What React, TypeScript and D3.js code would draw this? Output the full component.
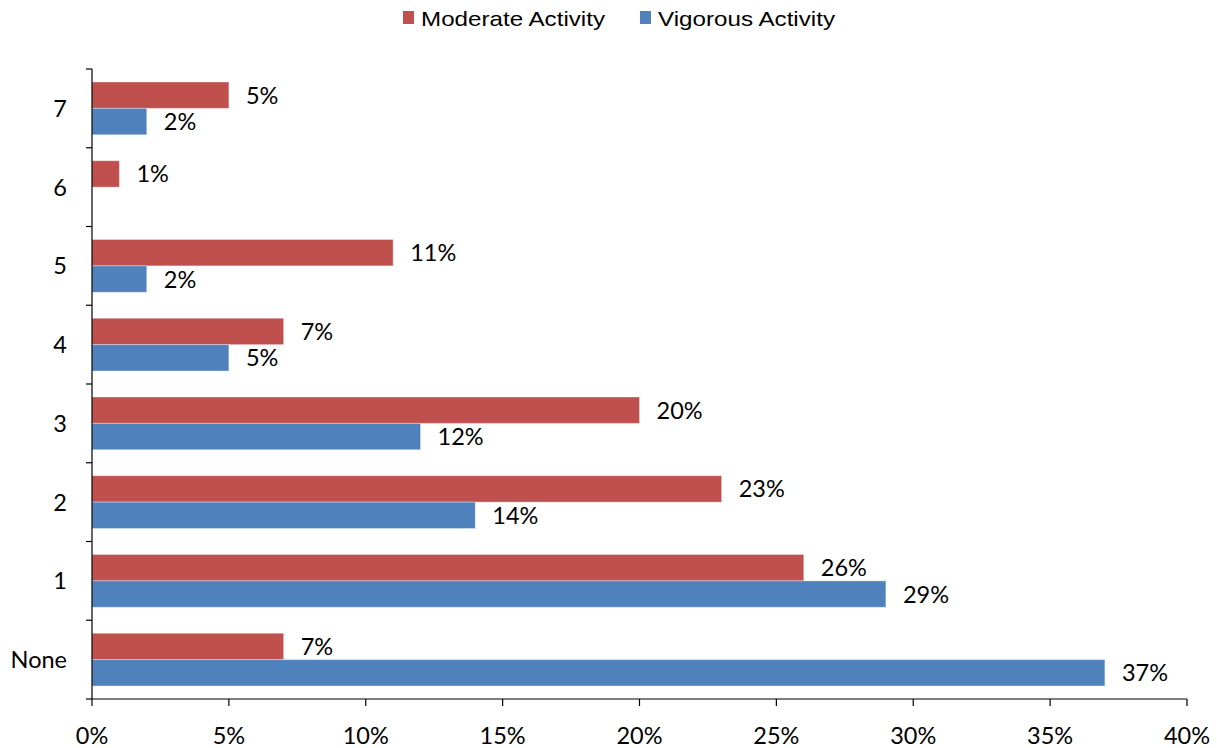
import React from "react";
import * as d3 from "d3";

const categories = ["7", "6", "5", "4", "3", "2", "1", "None"];
const moderate = [5, 1, 11, 7, 20, 23, 26, 7];
const vigorous = [2, 0, 2, 5, 12, 14, 29, 37];
const seriesNames = ["Moderate Activity", "Vigorous Activity"];
const seriesColors = ["#C0504D", "#4F81BD"];
const xTicks = [0, 5, 10, 15, 20, 25, 30, 35, 40];

const W = 1217;
const H = 748;
const FONT = "Lato, 'Liberation Sans', sans-serif";

export default function App() {
  const left = 92, right = 1187, top = 69, bottom = 699;
  const x = d3.scaleLinear().domain([0, 40]).range([left, right]);
  const y = d3.scaleBand<string>().domain(categories).range([top, bottom]).paddingInner(0.33).paddingOuter(0.165);
  const sub = d3.scaleBand<string>().domain(seriesNames).range([0, y.bandwidth()]);
  const series = [moderate, vigorous];
  const step = (bottom - top) / categories.length;

  return (
    <svg width={W} height={H} style={{ position: "absolute", left: 0, top: 0, background: "#fff" }} fontFamily={FONT}>
      {/* legend */}
      {seriesNames.map((n, i) => {
        const lx = i === 0 ? 403 : 640;
        return (
          <g key={n}>
            <rect x={lx} y={11} width={11} height={13} fill={seriesColors[i]} />
            <text x={lx + 18} y={26} fontSize={21} fontFamily="'Liberation Sans', Arial, sans-serif" fill="#000" textLength={i === 0 ? 184 : 177} lengthAdjust="spacingAndGlyphs">{n}</text>
          </g>
        );
      })}
      {/* bars */}
      {categories.map((c, ci) => (
        <g key={c}>
          {series.map((vals, si) => {
            const v = vals[ci];
            if (v === 0) return null;
            const by = (y(c) as number) + (sub(seriesNames[si]) as number);
            const bh = sub.bandwidth();
            return (
              <g key={si}>
                <rect x={x(0)} y={by} width={x(v) - x(0)} height={bh} fill={seriesColors[si]} stroke="rgba(255,255,255,0.35)" strokeWidth={1} />
                <text x={x(v) + 17} y={by + bh / 2} dy="0.36em" fontSize={23.5} fill="#000">{v}%</text>
              </g>
            );
          })}
          <text x={67} y={(y(c) as number) + y.bandwidth() / 2} dy="0.36em" textAnchor="end" fontSize={23.5} fill="#000">{c}</text>
        </g>
      ))}
      {/* y axis */}
      <line x1={left} x2={left} y1={top} y2={bottom} stroke="#000" strokeWidth={1.2} />
      {d3.range(categories.length + 1).map(i => (
        <line key={i} x1={left - 6} x2={left} y1={top + i * step} y2={top + i * step} stroke="#000" strokeWidth={1.2} />
      ))}
      {/* x axis */}
      <line x1={left} x2={right} y1={bottom} y2={bottom} stroke="#000" strokeWidth={1.2} />
      {xTicks.map(t => (
        <g key={t}>
          <line x1={x(t)} x2={x(t)} y1={bottom} y2={bottom + 7} stroke="#000" strokeWidth={1.2} />
          <text x={x(t)} y={744} textAnchor="middle" fontSize={23.5} fill="#000">{t}%</text>
        </g>
      ))}
    </svg>
  );
}
